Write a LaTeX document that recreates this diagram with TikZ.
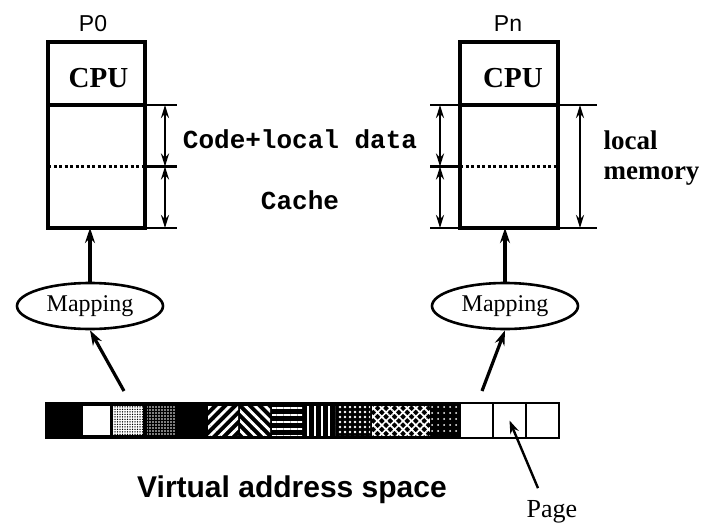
\documentclass[tikz,border=0pt]{standalone}
\usepackage{fontspec}
\setmainfont{Liberation Serif}
\setsansfont{Liberation Sans}
\setmonofont{Liberation Mono}
\usetikzlibrary{shapes.geometric}
\usetikzlibrary{arrows.meta}
\usetikzlibrary{patterns.meta}

\begin{document}
\begin{tikzpicture}[x=1pt,y=-1pt,
    pebox/.style={draw,line width=3.8pt,inner sep=0pt,outer sep=0pt,anchor=north west},
    cputext/.style={font=\bfseries\fontsize{29}{34}\selectfont},
    tick/.style={line width=2.4pt},
    span/.style={{Stealth[length=13pt,width=8pt]}-{Stealth[length=13pt,width=8pt]},line width=2.4pt},
    maparrow/.style={-{Stealth[length=15pt,width=10pt]},line width=3.2pt},
    mapping/.style={ellipse,draw,line width=2.6pt,minimum width=146pt,minimum height=46pt,
      inner sep=0pt,font=\fontsize{24}{29}\selectfont},
    cell/.style={draw,line width=2pt,fill=white,inner sep=0pt,outer sep=0pt,
      minimum width=33pt,minimum height=35pt,anchor=north west},
    stripes/.style={preaction={fill=black},pattern color=white,
      pattern={Lines[angle=#1,distance=7pt,line width=2.8pt]}},
    speckle/.style={preaction={fill=black},pattern color=white,pattern={Dots[#1]}}
  ]
    \useasboundingbox (0,0) rectangle (712,527);

    % processor P0
    \node[font=\sffamily\fontsize{23}{27}\selectfont] (p0) at (93,24) {P0};
    \node[pebox,minimum width=97pt,minimum height=63pt] (cpu0) at (48,42) {};
    \node[cputext] (cpu0txt) at ([xshift=2pt,yshift=-5pt]cpu0.center) {CPU};
    \node[pebox,minimum width=97pt,minimum height=123pt] (mem0) at (48,105) {};
    \draw[line width=2.4pt,dash pattern=on 3pt off 2.5pt] (mem0.west) -- (mem0.east);
    \draw[tick] (mem0.north east) -- +(32,0);
    \draw[tick] (mem0.east) -- +(32,0);
    \draw[tick] (mem0.south east) -- +(32,0);
    \draw[span] ([xshift=20pt]mem0.north east) -- ([xshift=20pt]mem0.east);
    \draw[span] ([xshift=20pt]mem0.east) -- ([xshift=20pt]mem0.south east);

    % processor Pn
    \node[font=\sffamily\fontsize{23}{27}\selectfont] (pn) at (508,24) {Pn};
    \node[pebox,minimum width=98pt,minimum height=63pt] (cpun) at (460,42) {};
    \node[cputext] (cpuntxt) at ([xshift=4pt,yshift=-5pt]cpun.center) {CPU};
    \node[pebox,minimum width=98pt,minimum height=123pt] (memn) at (460,105) {};
    \draw[line width=2.4pt,dash pattern=on 3pt off 2.5pt] (memn.west) -- (memn.east);
    \draw[tick] (memn.north west) -- +(-30,0);
    \draw[tick] (memn.west) -- +(-30,0);
    \draw[tick] (memn.south west) -- +(-30,0);
    \draw[span] ([xshift=-20pt]memn.north west) -- ([xshift=-20pt]memn.west);
    \draw[span] ([xshift=-20pt]memn.west) -- ([xshift=-20pt]memn.south west);
    \draw[tick] (memn.north east) -- +(39,0);
    \draw[tick] (memn.south east) -- +(39,0);
    \draw[span] ([xshift=22pt]memn.north east) -- ([xshift=22pt]memn.south east);

    \node[font=\ttfamily\bfseries\fontsize{26}{30}\selectfont] (code) at (300,139) {Code+local data};
    \node[font=\ttfamily\bfseries\fontsize{26}{30}\selectfont] (cache) at (300,200) {Cache};
    \node[font=\bfseries\fontsize{27}{30}\selectfont,align=left,anchor=west] (locmem)
      at (600,158) {local\\memory};

    % mappings
    \node[mapping] (map0) at (90,306) {Mapping};
    \node[mapping] (mapn) at (505,306) {Mapping};
    \draw[maparrow] (map0.north) -- (map0.north |- mem0.south);
    \draw[maparrow] (mapn.north) -- (mapn.north |- memn.south);

    % virtual address space
    \fill (46,403) rectangle (460,438);
    \fill[white] (83,406) rectangle (110,435);
    \path[preaction={fill=white},pattern color=black,pattern={Dots[distance=2.5pt,radius=0.75pt]}]
      (113,406) rectangle (143,435);
    \path[speckle={distance=3pt,radius=0.8pt}] (147,406) rectangle (175,435);
    \path[stripes=45] (208,406) rectangle (238,435);
    \path[stripes=-45] (240,406) rectangle (270,435);
    \path[stripes=0] (272,406) rectangle (302,435);
    \path[stripes=90] (304,406) rectangle (335,435);
    \path[speckle={distance=5pt,radius=1.4pt}] (337,406) rectangle (370,435);
    \path[preaction={fill=black},pattern color=white,
      pattern={Hatch[angle=45,distance=6pt,line width=1.7pt]}] (372,406) rectangle (430,435);
    \path[speckle={distance=6pt,radius=1pt}] (430,406) rectangle (458,435);
    \node[cell] (vp1) at (460,403) {};
    \node[cell] (vp2) at (493,403) {};
    \node[cell] (vp3) at (526,403) {};
    \draw[line width=2pt] (46,403) rectangle (vp3.south east);

    \coordinate (from0) at (124,391);
    \coordinate (fromn) at (482,391);
    \draw[maparrow] (from0) -- (map0.south);
    \draw[maparrow] (fromn) -- (mapn.south);

    \node[font=\sffamily\bfseries\fontsize{30}{36}\selectfont] (vas) at (292,490) {Virtual address space};
    \node[font=\fontsize{26}{30}\selectfont] (page) at (552,512) {Page};
    \draw[line width=2.4pt,-{Stealth[length=13pt,width=9pt]}] ([shift={(-14pt,9pt)}]page.north) -- (vp2.center);
  \end{tikzpicture}
\end{document}
